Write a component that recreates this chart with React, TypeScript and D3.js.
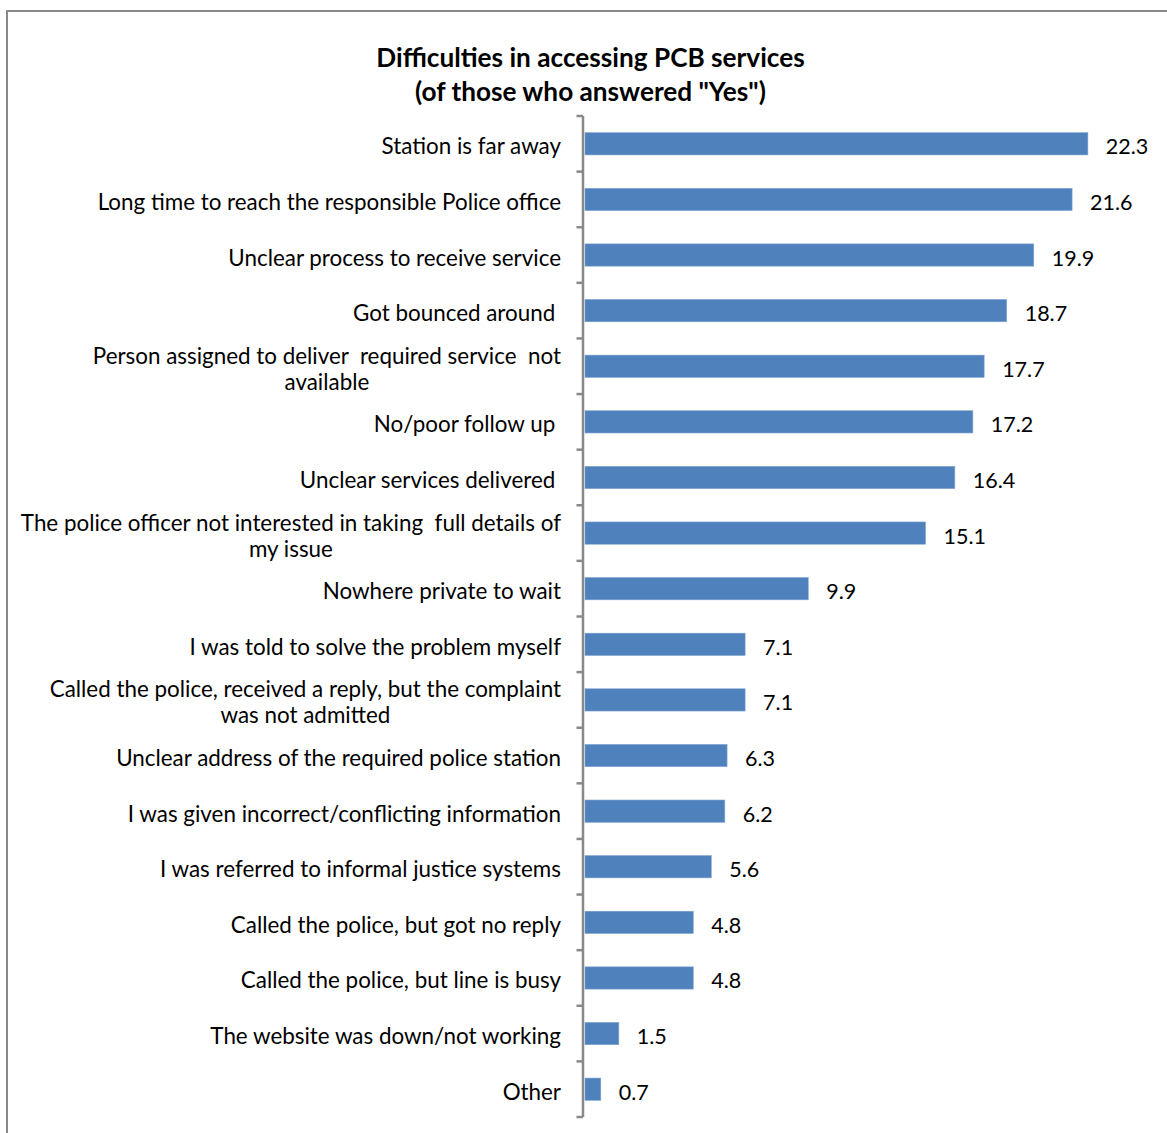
import React from "react";
import * as d3 from "d3";

const categories: string[][] = [
  ["Station is far away"],
  ["Long time to reach the responsible Police office"],
  ["Unclear process to receive service"],
  ["Got bounced around "],
  ["Person assigned to deliver  required service  not", "available"],
  ["No/poor follow up "],
  ["Unclear services delivered "],
  ["The police officer not interested in taking  full details of", "my issue"],
  ["Nowhere private to wait"],
  ["I was told to solve the problem myself"],
  ["Called the police, received a reply, but the complaint", "was not admitted"],
  ["Unclear address of the required police station"],
  ["I was given incorrect/conflicting information"],
  ["I was referred to informal justice systems"],
  ["Called the police, but got no reply"],
  ["Called the police, but line is busy"],
  ["The website was down/not working"],
  ["Other"],
];
const values: number[] = [22.3, 21.6, 19.9, 18.7, 17.7, 17.2, 16.4, 15.1, 9.9, 7.1, 7.1, 6.3, 6.2, 5.6, 4.8, 4.8, 1.5, 0.7];
const titleLines: string[] = ["Difficulties in accessing PCB services", "(of those who answered \"Yes\")"];

const W = 1167;
const H = 1133;
const FONT = "Lato, 'Open Sans', sans-serif";

export default function App() {
  const keys = categories.map((_, i) => String(i));
  const y = d3.scaleBand<string>().domain(keys).range([116, 1117]).paddingInner(0.6).paddingOuter(0.3);
  const x = d3.scaleLinear().domain([0, 25]).range([585, 585 + 25 * 22.55]);
  const axisX = 583;
  const step = y.step();
  const tickYs = d3.range(categories.length + 1).map((i) => 116 + i * step);
  const fs = 22.4;
  const vfs = 21.5;
  return (
    <svg width={W} height={H} style={{ position: "absolute", left: 0, top: 0, background: "#fff" }} fontFamily={FONT}>
      <rect x={7} y={11} width={W + 20} height={H + 20} fill="#fff" stroke="#898989" strokeWidth={2} />
      {titleLines.map((t, i) => (
        <text key={i} x={590.5} y={67 + i * 34} textAnchor="middle" fontWeight="bold" fontSize={26.2} fill="#000">
          {t}
        </text>
      ))}
      <line x1={axisX} x2={axisX} y1={116} y2={1117} stroke="#898989" strokeWidth={2.5} />
      {tickYs.map((ty, i) => (
        <line key={i} x1={576.5} x2={axisX} y1={ty} y2={ty} stroke="#898989" strokeWidth={2.5} />
      ))}
      {values.map((v, i) => {
        const by = y(String(i))!;
        return (
          <g key={i}>
            <rect x={x(0)} y={by} width={x(v) - x(0)} height={y.bandwidth()} fill="#4F81BD" stroke="#7FA3D0" strokeWidth={0.6} />
            <text x={x(v) + 18} y={by + y.bandwidth() / 2 + 10.5} fontSize={vfs} fill="#000">
              {v.toFixed(1)}
            </text>
          </g>
        );
      })}
      {categories.map((lines, i) => {
        const cy = y(String(i))! + y.bandwidth() / 2;
        const lh = 26;
        if (lines.length === 1) {
          return (
            <text key={i} x={561} y={cy + 10.5} textAnchor="end" fontSize={fs} fill="#000" style={{ whiteSpace: "pre" }}>
              {lines[0]}
            </text>
          );
        }
        return <MultiLabel key={i} lines={lines} cy={cy} lh={lh} fs={fs} />;
      })}
    </svg>
  );
}

function MultiLabel({ lines, cy, lh, fs }: { lines: string[]; cy: number; lh: number; fs: number }) {
  const ref = React.useRef<SVGGElement>(null);
  const [cx, setCx] = React.useState<number | null>(null);
  React.useLayoutEffect(() => {
    if (!ref.current) return;
    const t = ref.current.querySelector("text") as SVGTextElement;
    const w = t.getComputedTextLength();
    setCx(561 - w / 2);
  }, []);
  const n = lines.length;
  const top = cy - ((n - 1) * lh) / 2;
  return (
    <g ref={ref}>
      {lines.map((l, j) => (
        <text
          key={j}
          x={cx ?? 561}
          y={top + j * lh + 10.5}
          textAnchor={cx === null ? "end" : "middle"}
          fontSize={fs}
          fill="#000"
          style={{ whiteSpace: "pre" }}
        >
          {l}
        </text>
      ))}
    </g>
  );
}
